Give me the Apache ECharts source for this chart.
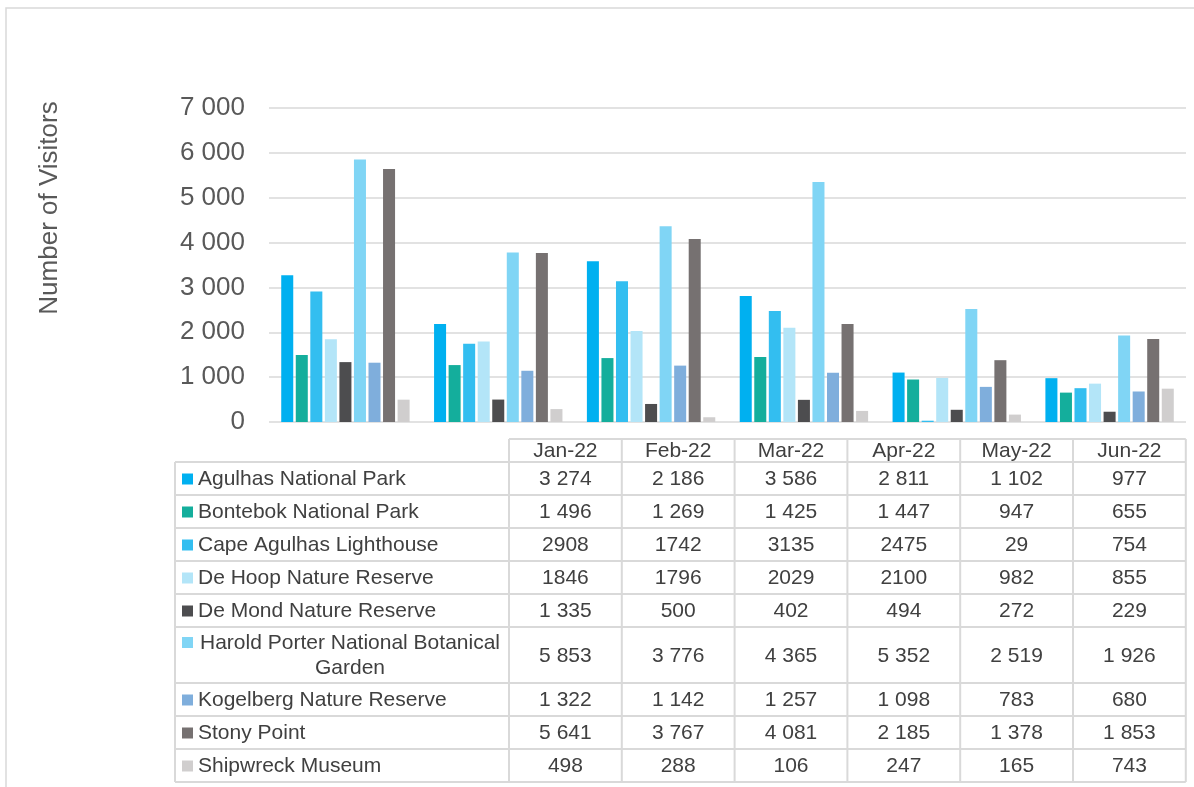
<!DOCTYPE html>
<html>
<head>
    <meta charset="utf-8">
    <title>Visitors</title>
    <script src="https://cdn.jsdelivr.net/npm/echarts@6/dist/echarts.min.js"></script>
    <style>
        body { margin: 0; background: #fff; }
        #chart { width: 1194px; height: 787px; }
    </style>
</head>
<body>
<div id="chart"></div>

<script type="text/javascript">
    // data
    var months = ['Jan-22', 'Feb-22', 'Mar-22', 'Apr-22', 'May-22', 'Jun-22'];
    var parks = [
        'Agulhas National Park',
        'Bontebok National Park',
        'Cape Agulhas Lighthouse',
        'De Hoop Nature Reserve',
        'De Mond Nature Reserve',
        'Harold Porter National Botanical Garden',
        'Kogelberg Nature Reserve',
        'Stony Point',
        'Shipwreck Museum'
    ];
    var agulhas    = [3274, 2186, 3586, 2811, 1102, 977];
    var bontebok   = [1496, 1269, 1425, 1447, 947, 655];
    var capeLight  = [2908, 1742, 3135, 2475, 29, 754];
    var deHoop     = [1846, 1796, 2029, 2100, 982, 855];
    var deMond     = [1335, 500, 402, 494, 272, 229];
    var harold     = [5853, 3776, 4365, 5352, 2519, 1926];
    var kogelberg  = [1322, 1142, 1257, 1098, 783, 680];
    var stonyPoint = [5641, 3767, 4081, 2185, 1378, 1853];
    var shipwreck  = [498, 288, 106, 247, 165, 743];
    var yTicks = [0, 1000, 2000, 3000, 4000, 5000, 6000, 7000];
    // these two rows are printed without the thousands space
    var plainRows = ['Cape Agulhas Lighthouse', 'De Hoop Nature Reserve'];

    var values = [agulhas, bontebok, capeLight, deHoop, deMond, harold, kogelberg, stonyPoint, shipwreck];
    var colors = ['#00B0F0', '#14AE9C', '#33BEF0', '#B3E5F8', '#4D4D4F', '#80D5F5', '#7FAEDC', '#767171', '#D0CECE'];

    function spaced(v) {
        return String(v).replace(/\B(?=(\d{3})+(?!\d))/g, ' ');
    }

    var FONT = '"Liberation Sans", Arial, sans-serif';
    var textCol = '#404040';
    var lineCol = '#D9D9D9';

    // table layout
    var tLeft = 175, tLabelRight = 509, colW = 112.8, headTop = 439, bodyTop = 462;
    var rowH = [33, 33, 33, 33, 33, 56, 33, 33, 33];
    var tRight = tLabelRight + colW * months.length;

    var g = [];
    // outer frame of the chart object
    g.push({ type: 'rect', shape: { x: 6, y: 8, width: 1200, height: 800 },
        style: { fill: 'none', stroke: lineCol, lineWidth: 1.5 }, z: 1 });
    // y axis title
    g.push({ type: 'text', x: 50, y: 208, rotation: Math.PI / 2,
        style: { text: 'Number of Visitors', font: '26px ' + FONT, fill: '#595959',
            textAlign: 'center', textVerticalAlign: 'middle' } });

    var rowTops = [];
    var y = bodyTop;
    for (var r = 0; r < rowH.length; r++) { rowTops.push(y); y += rowH[r]; }
    var tBottom = y;

    function hline(x1, x2, yy) {
        g.push({ type: 'line', shape: { x1: x1, y1: yy, x2: x2, y2: yy }, style: { stroke: lineCol, lineWidth: 2 } });
    }
    function vline(xx, y1, y2) {
        g.push({ type: 'line', shape: { x1: xx, y1: y1, x2: xx, y2: y2 }, style: { stroke: lineCol, lineWidth: 2 } });
    }

    hline(tLabelRight, tRight, headTop);
    for (r = 0; r < rowTops.length; r++) hline(tLeft, tRight, rowTops[r]);
    hline(tLeft, tRight, tBottom);
    vline(tLeft, bodyTop, tBottom);
    for (var c = 0; c <= months.length; c++) vline(tLabelRight + colW * c, headTop, tBottom);

    // header
    months.forEach(function (m, i) {
        g.push({ type: 'text', x: tLabelRight + colW * (i + 0.5), y: (headTop + bodyTop) / 2 + 1,
            style: { text: m, font: '21px ' + FONT, fill: textCol, textAlign: 'center', textVerticalAlign: 'middle' } });
    });

    // body rows
    parks.forEach(function (name, r) {
        var cy = rowTops[r] + rowH[r] / 2 + 1;
        var twoLine = rowH[r] > 40;
        var keyY = twoLine ? rowTops[r] + 16 : cy;
        g.push({ type: 'rect', shape: { x: 182, y: keyY - 6, width: 11, height: 11 }, style: { fill: colors[r] } });
        if (twoLine) {
            var words = name.split(' ');
            g.push({ type: 'text', x: 350, y: rowTops[r] + 16,
                style: { text: words.slice(0, -1).join(' '), font: '21px ' + FONT, fill: textCol, textAlign: 'center', textVerticalAlign: 'middle' } });
            g.push({ type: 'text', x: 350, y: rowTops[r] + 41,
                style: { text: words[words.length - 1], font: '21px ' + FONT, fill: textCol, textAlign: 'center', textVerticalAlign: 'middle' } });
        } else {
            g.push({ type: 'text', x: 198, y: cy,
                style: { text: name, font: '21px ' + FONT, fill: textCol, textAlign: 'left', textVerticalAlign: 'middle' } });
        }
        var plain = plainRows.indexOf(name) >= 0;
        values[r].forEach(function (v, i) {
            g.push({ type: 'text', x: tLabelRight + colW * (i + 0.5), y: cy,
                style: { text: plain ? String(v) : spaced(v), font: '21px ' + FONT, fill: textCol,
                    textAlign: 'center', textVerticalAlign: 'middle' } });
        });
    });

    var series = parks.map(function (name, i) {
        return {
            name: name,
            type: 'bar',
            data: values[i],
            barGap: '21%',
            barCategoryGap: '16%',
            itemStyle: { color: colors[i] },
            emphasis: { disabled: true }
        };
    });

    var myChart = echarts.init(document.getElementById('chart'));
    myChart.setOption({
        animation: false,
        textStyle: { fontFamily: FONT },
        grid: { left: 269, right: 1194 - 1186, top: 108, bottom: 787 - 422, containLabel: false },
        xAxis: {
            type: 'category',
            data: months,
            axisLine: { show: false },
            axisTick: { show: false },
            axisLabel: { show: false }
        },
        yAxis: {
            type: 'value',
            min: yTicks[0],
            max: yTicks[yTicks.length - 1],
            interval: 1000,
            axisLine: { show: false },
            axisTick: { show: false },
            axisLabel: { fontSize: 26, color: '#595959', margin: 24, formatter: function (v) { return spaced(v); } },
            splitLine: { lineStyle: { color: lineCol, width: 1.5 } }
        },
        series: series,
        graphic: g
    });
</script>
</body>
</html>
